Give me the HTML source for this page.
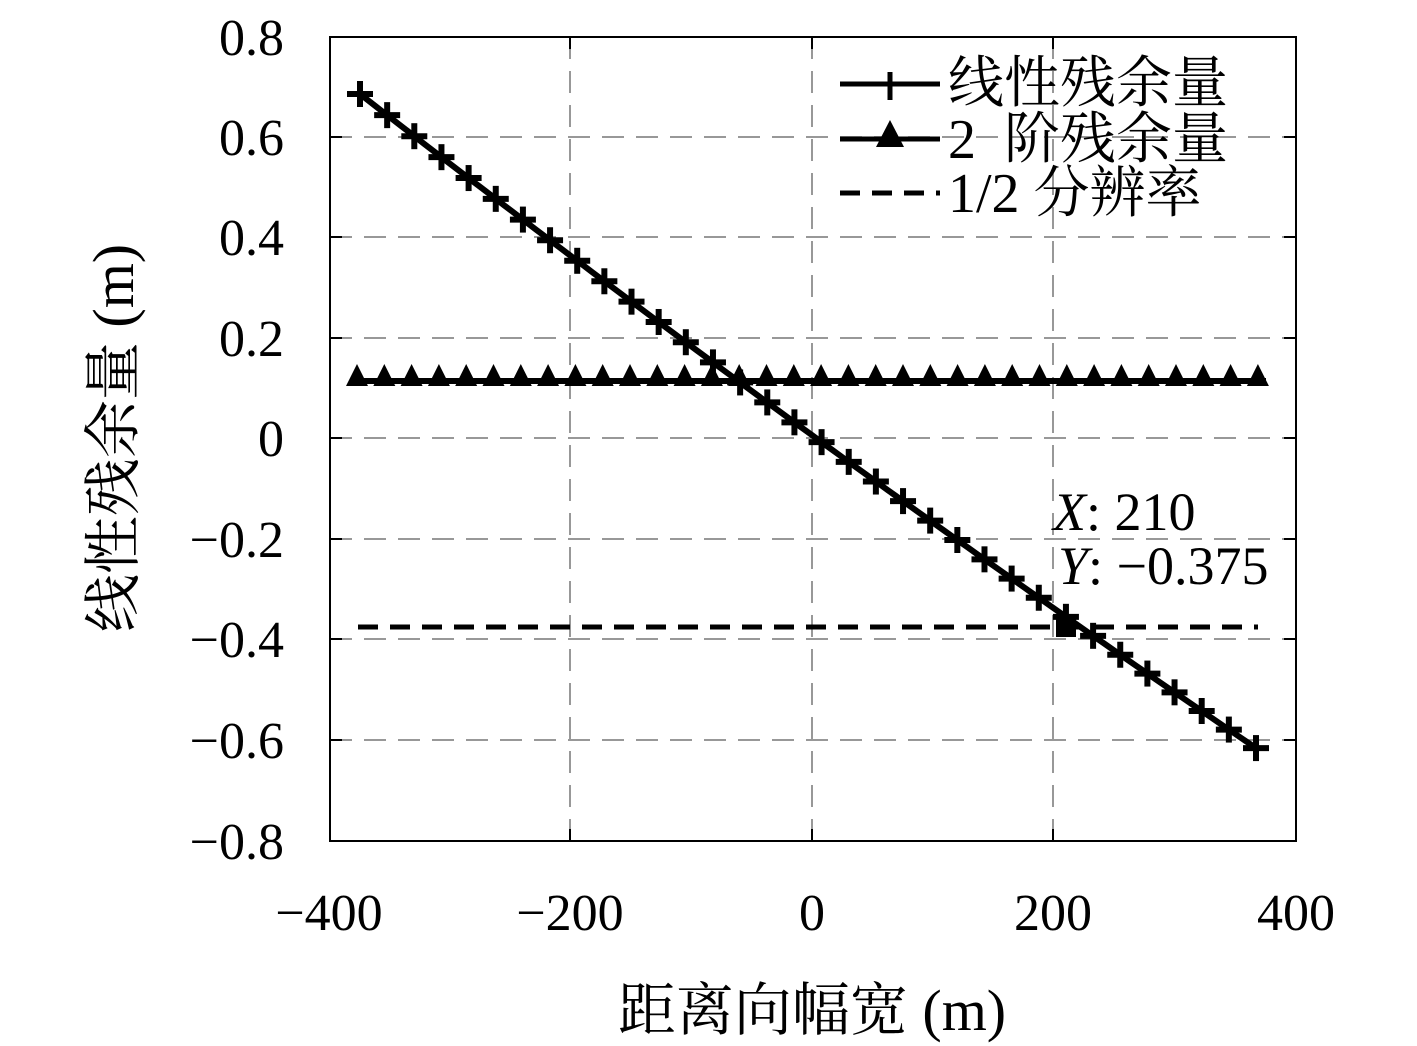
<!DOCTYPE html>
<html><head><meta charset="utf-8"><style>
html,body{margin:0;padding:0;background:#fff;}
svg{display:block;}
.t{font-family:"Liberation Serif","Noto Serif CJK SC",serif;fill:#000;}
</style></head><body>
<svg id="s" width="1417" height="1046" xmlns="http://www.w3.org/2000/svg">
<rect width="1417" height="1046" fill="#fff"/>
<g id="grid" stroke="#777" stroke-width="1.5" stroke-dasharray="22,12" fill="none">
<line x1="570" y1="37" x2="570" y2="841"/>
<line x1="812" y1="37" x2="812" y2="841"/>
<line x1="1053" y1="37" x2="1053" y2="841"/>
<line x1="330" y1="137" x2="1296" y2="137"/>
<line x1="330" y1="237" x2="1296" y2="237"/>
<line x1="330" y1="338" x2="1296" y2="338"/>
<line x1="330" y1="438" x2="1296" y2="438"/>
<line x1="330" y1="539" x2="1296" y2="539"/>
<line x1="330" y1="639" x2="1296" y2="639"/>
<line x1="330" y1="740" x2="1296" y2="740"/>
</g>
<rect x="330" y="37" width="966" height="804" fill="none" stroke="#000" stroke-width="2"/>
<g id="ticks" stroke="#000" stroke-width="2"></g>
<g class="t" font-size="52" text-anchor="end" textLength="">
<text x="284" y="55">0.8</text>
<text x="284" y="155">0.6</text>
<text x="284" y="255">0.4</text>
<text x="284" y="356">0.2</text>
<text x="284" y="456">0</text>
<text x="284" y="557">−0.2</text>
<text x="284" y="657">−0.4</text>
<text x="284" y="758">−0.6</text>
<text x="284" y="859">−0.8</text>
</g>
<g class="t" font-size="52" text-anchor="middle">
<text x="329" y="930">−400</text>
<text x="570" y="930">−200</text>
<text x="812" y="930">0</text>
<text x="1053" y="930">200</text>
<text x="1296" y="930">400</text>
</g>
<text class="t" font-size="58" text-anchor="middle" x="812" y="1030">距离向幅宽 (m)</text>
<text class="t" font-size="58" text-anchor="middle" transform="translate(133,438) rotate(-90)">线性残余量 (m)</text>
<line x1="358" y1="627" x2="1258" y2="627" stroke="#000" stroke-width="5" stroke-dasharray="20,12"/>
<g id="tri"></g>
<g id="lin"></g>
<rect x="1056" y="617" width="20" height="20" fill="#000"/>
<text class="t" font-size="54" x="1053" y="530"><tspan font-style="italic">X</tspan>: 210</text>
<text class="t" font-size="54" x="1058" y="584"><tspan font-style="italic">Y</tspan>: −0.375</text>
<g stroke="#000" stroke-width="5">
<line x1="840" y1="84" x2="940" y2="84"/><line x1="890" y1="72" x2="890" y2="100"/>
<line x1="840" y1="139" x2="940" y2="139"/>
<line x1="840" y1="193" x2="940" y2="193" stroke-dasharray="20,12"/>
</g>
<polygon points="890,120 876,147 904,147" fill="#000"/>
<g class="t" font-size="56">
<text x="948" y="102">线性残余量</text>
<text x="948" y="158" xml:space="preserve">2  阶残余量</text>
<text x="948" y="212">1/2 分辨率</text>
</g>
</svg>
<script>
var NS="http://www.w3.org/2000/svg";
function el(p,n,a){var e=document.createElementNS(NS,n);for(var k in a)e.setAttribute(k,a[k]);p.appendChild(e);return e;}
var tk=document.getElementById("ticks");
[570,812,1053].forEach(function(x){el(tk,"line",{x1:x,y1:841,x2:x,y2:829});el(tk,"line",{x1:x,y1:37,x2:x,y2:49});});
[137,237,338,438,539,639,740].forEach(function(y){el(tk,"line",{x1:330,y1:y,x2:342,y2:y});el(tk,"line",{x1:1296,y1:y,x2:1284,y2:y});});
var tri=document.getElementById("tri");
el(tri,"line",{x1:350,y1:381,x2:1266,y2:381,stroke:"#000","stroke-width":6});
for(var i=0;i<34;i++){var x=357+i*27.3;el(tri,"polygon",{points:(x)+",364 "+(x-11)+",386 "+(x+11)+",386",fill:"#000"});}
var lin=document.getElementById("lin");
function fy(x){var d=x-360;return 94+0.78*d-5.58e-5*d*d;}
var pts=[];for(var x=360;x<=1256;x+=8)pts.push(x+","+fy(x).toFixed(1));pts.push("1256,"+fy(1256).toFixed(1));
el(lin,"polyline",{points:pts.join(" "),fill:"none",stroke:"#000","stroke-width":6});
for(var i=0;i<34;i++){var x=360+i*896/33,y=fy(x);
el(lin,"line",{x1:x-13,y1:y,x2:x+13,y2:y,stroke:"#000","stroke-width":6});
el(lin,"line",{x1:x,y1:y-13,x2:x,y2:y+13,stroke:"#000","stroke-width":6});}
</script>
</body></html>
